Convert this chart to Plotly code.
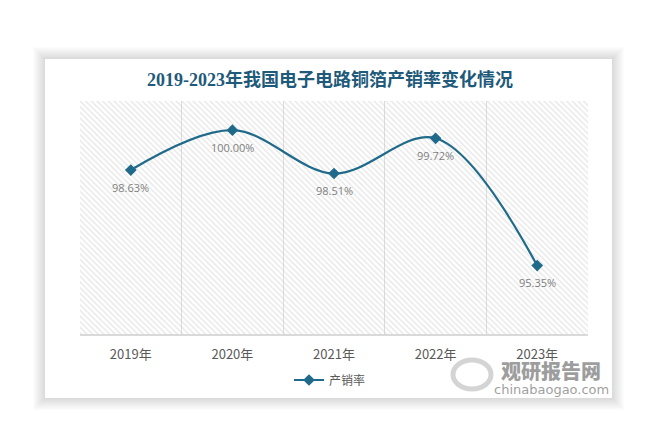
import plotly.graph_objects as go

years = ["2019年", "2020年", "2021年", "2022年", "2023年"]
rates = [98.63, 100.00, 98.51, 99.72, 95.35]
labels = ["98.63%", "100.00%", "98.51%", "99.72%", "95.35%"]
series_name = "产销率"
title_text = "2019-2023年我国电子电路铜箔产销率变化情况"

Y_MIN, Y_MAX = 93.0, 101.0
xs = list(range(len(years)))
LINE_COLOR = "#1F6A8A"

fig = go.Figure()

# hatched plot background
fig.add_trace(go.Scatter(
    x=[-0.5, len(years) - 0.5, len(years) - 0.5, -0.5, -0.5],
    y=[Y_MIN, Y_MIN, Y_MAX, Y_MAX, Y_MIN],
    mode="lines", line=dict(width=0, color="rgba(0,0,0,0)"),
    fill="toself", fillcolor="rgba(0,0,0,0)",
    fillpattern=dict(shape="\\", fgcolor="#cfcfcf", bgcolor="rgba(0,0,0,0)",
                     size=4, solidity=0.35, fillmode="overlay"),
    hoverinfo="skip", showlegend=False,
))

fig.add_trace(go.Scatter(
    x=xs, y=rates, name=series_name,
    mode="lines+markers",
    line=dict(color=LINE_COLOR, width=2.2, shape="spline", smoothing=1),
    marker=dict(symbol="diamond", size=9, color=LINE_COLOR),
    hoverinfo="x+y",
))

# card shadow and card
def px_x(p):
    return (p - 80) / 508.0

def px_y(p):
    return (334 - p) / 233.0

shapes = []
for d in range(12, 0, -1):
    shapes.append(dict(type="rect", xref="paper", yref="paper", layer="below",
                       x0=px_x(45 - d), x1=px_x(612 + d), y0=px_y(398 + d), y1=px_y(59 - d),
                       line=dict(width=0), fillcolor="rgba(0,0,0,0.011)"))
shapes.append(dict(type="rect", xref="paper", yref="paper", layer="below",
                   x0=px_x(45), x1=px_x(612), y0=px_y(398), y1=px_y(59),
                   line=dict(width=0), fillcolor="white"))
# watermark logo
shapes.append(dict(type="circle", xref="paper", yref="paper", layer="above",
                   x0=px_x(453), x1=px_x(491), y0=px_y(389), y1=px_y(360),
                   line=dict(width=5, color="rgba(160,160,160,0.45)")))

annotations = []
for xi, yi, lab in zip(xs, rates, labels):
    annotations.append(dict(x=xi, y=yi, xref="x", yref="y", text=lab, showarrow=False,
                            yshift=-17, xanchor="center", yanchor="middle",
                            font=dict(size=11, color="#7f7f7f", family="Open Sans, Noto Sans")))
annotations += [
    dict(text="观研报告网", xref="paper", yref="paper", x=px_x(551), y=px_y(370),
         showarrow=False, font=dict(size=20, color="rgba(125,125,125,0.75)", weight=900,
                                    family="Noto Sans CJK SC"), xanchor="center", yanchor="middle"),
    dict(text="chinabaogao.com", xref="paper", yref="paper", x=px_x(551), y=px_y(389),
         showarrow=False, font=dict(size=13, color="rgba(125,125,125,0.75)",
                                    family="DejaVu Sans"), xanchor="center", yanchor="middle"),
]

fig.update_layout(
    width=662, height=448,
    margin=dict(l=80, r=74, t=101, b=114),
    paper_bgcolor="white", plot_bgcolor="rgba(0,0,0,0)",
    title=dict(text="<b>" + title_text + "</b>", x=px_x(330), xref="paper", xanchor="center",
               y=1 - 80 / 448.0, yanchor="middle",
               font=dict(size=18, color="#1E5A7A", family="Liberation Serif, Noto Sans CJK SC")),
    showlegend=True,
    legend=dict(orientation="h", x=px_x(330), xanchor="center", y=px_y(380), yanchor="middle",
                font=dict(size=12, color="#595959", family="Noto Sans CJK SC"),
                bgcolor="rgba(0,0,0,0)"),
    shapes=shapes, annotations=annotations,
    xaxis=dict(range=[-0.5, len(years) - 0.5], tickvals=xs, ticktext=years,
               showgrid=False, zeroline=False, showline=True, linecolor="#d9d9d9", linewidth=1.5,
               ticks="", ticklabelstandoff=8,
               tickfont=dict(size=13, color="#595959", family="Noto Sans CJK SC"),
               minor=dict(tickvals=[-0.5, 0.5, 1.5, 2.5, 3.5], showgrid=True,
                          gridcolor="#dcdcdc", gridwidth=1, ticks="")),
    yaxis=dict(range=[Y_MIN, Y_MAX], visible=False, showgrid=False, zeroline=False),
)

fig.write_html("out.html")
